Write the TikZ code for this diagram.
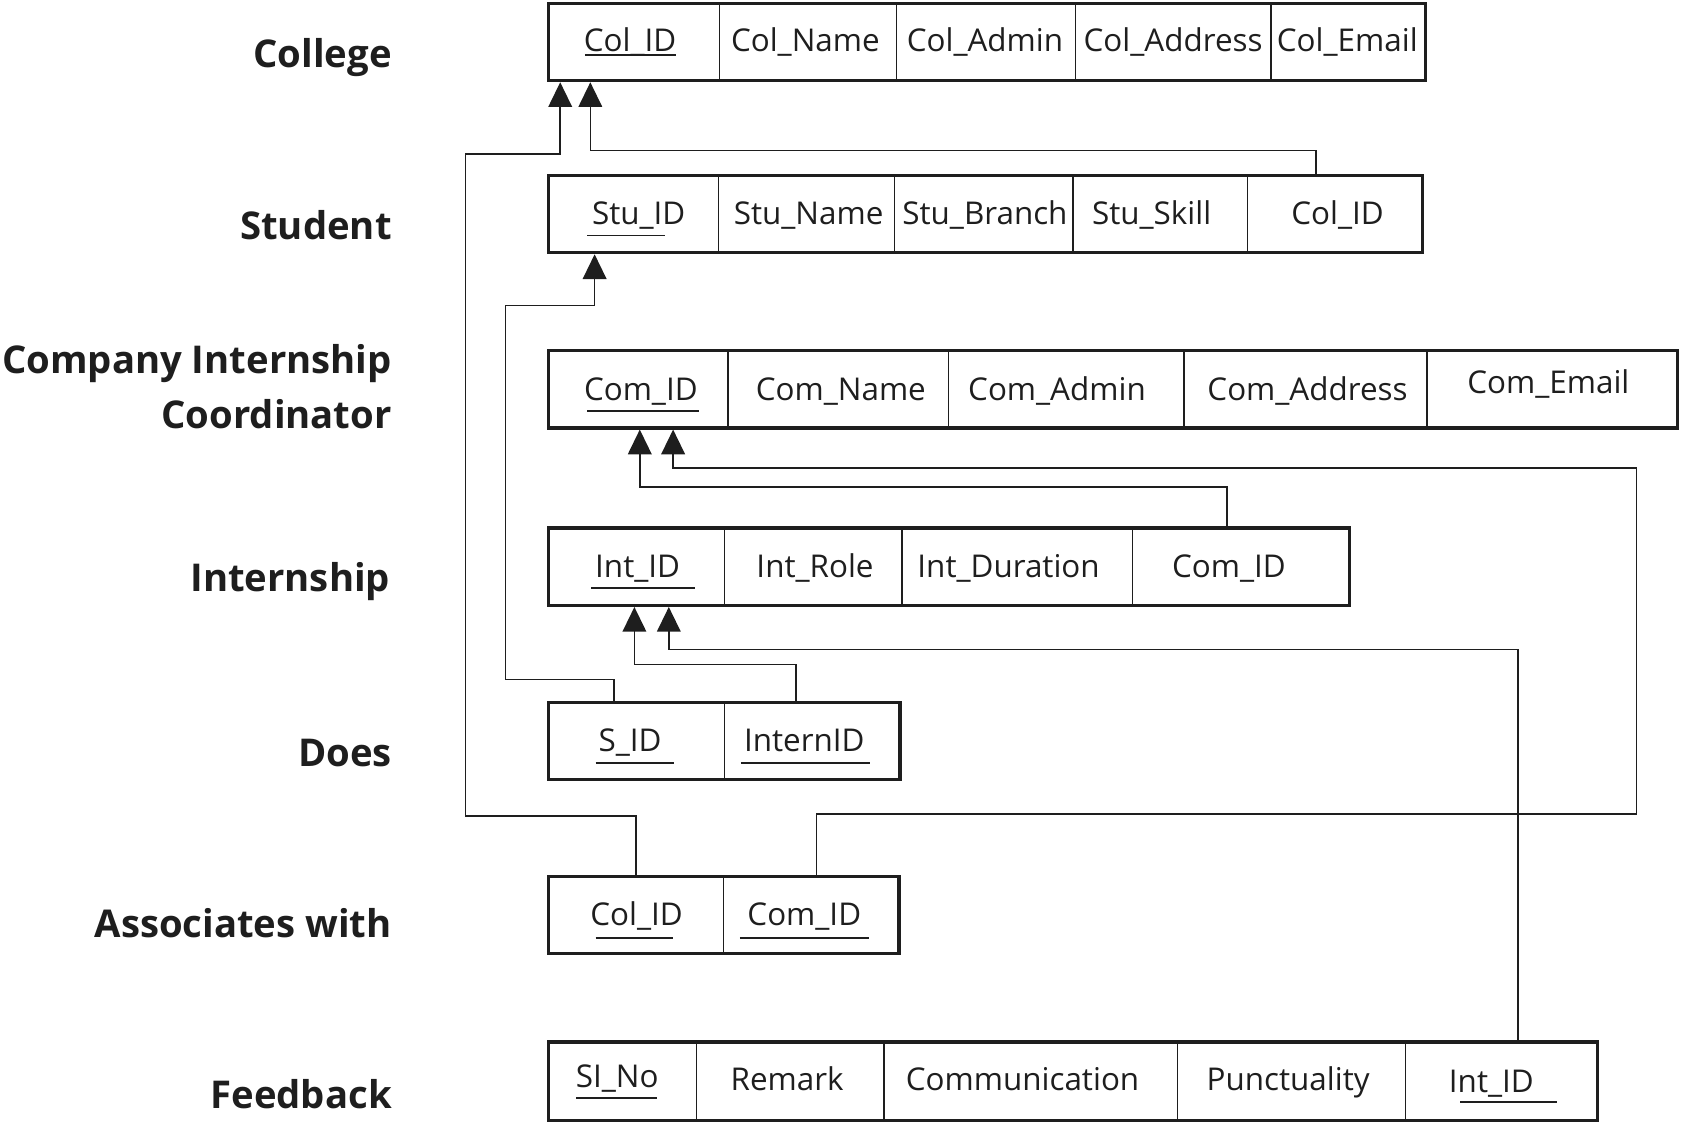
\documentclass[tikz,border=0pt]{standalone}
\usepackage{fontspec}
\setmainfont{Open Sans}
\usetikzlibrary{arrows.meta,fit}
\definecolor{ink}{HTML}{1E1E1E}
\begin{document}
\begin{tikzpicture}[x=1pt,y=-1pt,
  cell/.style={draw=ink, line width=1.3pt, minimum height=72pt, inner sep=0pt, outer sep=0pt, anchor=north west},
  tbl/.style={draw=ink, line width=3pt, inner sep=0pt},
  attr/.style={anchor=base, inner sep=0pt, font=\fontsize{29.2}{34}\selectfont, text=ink},
  lab/.style={anchor=base east, inner sep=0pt, font=\bfseries\fontsize{35.6}{46}\selectfont, text=ink},
  fk/.style={draw=ink, line width=1.5pt, -{Triangle[length=23pt,width=22pt]}},
  ul/.style={draw=ink, line width=1.8pt}]
\useasboundingbox (0,0) rectangle (1568,1044);

% ---------- labels ----------
\node[lab] (lcollege) at (364.5,62.5) {College};
\node[lab] (lstudent) at (364.5,222.5) {Student};
\node[lab] (lcomp1) at (364.5,347.5) {Company Internship};
\node[lab] (lcomp2) at (364.5,398.5) {Coordinator};
\node[lab] (linternship) at (363,550.5) {Internship};
\node[lab] (ldoes) at (364.5,712.5) {Does};
\node[lab] (lassoc) at (364.5,871.5) {Associates with};
\node[lab] (lfeedback) at (364.5,1030.5) {Feedback};

% ---------- College ----------
\node[cell, minimum width=159pt] (co1) at (510,3) {};
\node[cell, minimum width=165pt] (co2) at (669,3) {};
\node[cell, minimum width=166pt] (co3) at (834,3) {};
\node[cell, minimum width=182pt] (co4) at (1000,3) {};
\node[cell, minimum width=144pt] (co5) at (1182,3) {};
\node[tbl, fit=(co1)(co5)] (college) {};
\node[attr] (tco1) at (586,48) {Col\_ID};
\node[attr] (tco2) at (749,48) {Col\_Name};
\node[attr] (tco3) at (916,48) {Col\_Admin};
\node[attr] (tco4) at (1091,48) {Col\_Address};
\node[attr] (tco5) at (1253,48) {Col\_Email};
\draw[ul] (544,51) -- (629,51);

% ---------- Student ----------
\node[cell, minimum width=158pt] (st1) at (510,163) {};
\node[cell, minimum width=164pt] (st2) at (668,163) {};
\node[cell, minimum width=166pt] (st3) at (832,163) {};
\node[cell, minimum width=162pt] (st4) at (998,163) {};
\node[cell, minimum width=163pt] (st5) at (1160,163) {};
\node[tbl, fit=(st1)(st5)] (student) {};
\node[attr] (tst1) at (594,209) {Stu\_ID};
\node[attr] (tst2) at (752,209) {Stu\_Name};
\node[attr] (tst3) at (916,209) {Stu\_Branch};
\node[attr] (tst4) at (1071,209) {Stu\_Skill};
\node[attr] (tst5) at (1244,209) {Col\_ID};
\draw[ul] (546,219) -- (618,219);

% ---------- Company Internship Coordinator ----------
\node[cell, minimum width=167pt] (cm1) at (510,326) {};
\node[cell, minimum width=205pt] (cm2) at (677,326) {};
\node[cell, minimum width=219pt] (cm3) at (882,326) {};
\node[cell, minimum width=226pt] (cm4) at (1101,326) {};
\node[cell, minimum width=233pt] (cm5) at (1327,326) {};
\node[tbl, fit=(cm1)(cm5)] (company) {};
\node[attr] (tcm1) at (596,372) {Com\_ID};
\node[attr] (tcm2) at (782,372) {Com\_Name};
\node[attr] (tcm3) at (983,372) {Com\_Admin};
\node[attr] (tcm4) at (1216,372) {Com\_Address};
\node[attr] (tcm5) at (1440,366) {Com\_Email};
\draw[ul] (546,382) -- (650,382);

% ---------- Internship ----------
\node[cell, minimum width=164pt] (in1) at (510,491) {};
\node[cell, minimum width=165pt] (in2) at (674,491) {};
\node[cell, minimum width=214pt] (in3) at (839,491) {};
\node[cell, minimum width=202pt] (in4) at (1053,491) {};
\node[tbl, fit=(in1)(in4)] (internship) {};
\node[attr] (tin1) at (593,537) {Int\_ID};
\node[attr] (tin2) at (758,537) {Int\_Role};
\node[attr] (tin3) at (938,537) {Int\_Duration};
\node[attr] (tin4) at (1143,537) {Com\_ID};
\draw[ul] (550,547) -- (646,547);

% ---------- Does ----------
\node[cell, minimum width=164pt] (do1) at (510,653) {};
\node[cell, minimum width=163pt] (do2) at (674,653) {};
\node[tbl, fit=(do1)(do2)] (does) {};
\node[attr] (tdo1) at (586,699) {S\_ID};
\node[attr] (tdo2) at (748,699) {InternID};
\draw[ul] (554,710) -- (627,710);
\draw[ul] (689,710) -- (809,710);

% ---------- Associates with ----------
\node[cell, minimum width=163pt] (as1) at (510,815) {};
\node[cell, minimum width=163pt] (as2) at (673,815) {};
\node[tbl, fit=(as1)(as2)] (assoc) {};
\node[attr] (tas1) at (592,861) {Col\_ID};
\node[attr] (tas2) at (748,861) {Com\_ID};
\draw[ul] (554,872) -- (626,872);
\draw[ul] (688,872) -- (808,872);

% ---------- Feedback ----------
\node[cell, minimum width=138pt, minimum height=73pt] (fb1) at (510,969) {};
\node[cell, minimum width=174pt, minimum height=73pt] (fb2) at (648,969) {};
\node[cell, minimum width=273pt, minimum height=73pt] (fb3) at (822,969) {};
\node[cell, minimum width=212pt, minimum height=73pt] (fb4) at (1095,969) {};
\node[cell, minimum width=179pt, minimum height=73pt] (fb5) at (1307,969) {};
\node[tbl, fit=(fb1)(fb5)] (feedback) {};
\node[attr] (tfb1) at (574,1011) {SI\_No};
\node[attr] (tfb2) at (732,1014) {Remark};
\node[attr] (tfb3) at (951,1014) {Communication};
\node[attr] (tfb4) at (1198,1014) {Punctuality};
\node[attr] (tfb5) at (1387,1016) {Int\_ID};
\draw[ul] (536,1021) -- (611,1021);
\draw[ul] (1358,1025) -- (1448,1025);

% ---------- foreign keys ----------
\coordinate (k1a) at (433,759);
\coordinate (k1b) at (521,143);
\draw[fk] (as1.north) |- (k1a) |- (k1b) -- (k1b |- college.south);

\coordinate (k2) at (549,140);
\draw[fk] ([xshift=-17.5pt]st5.north) |- (k2) -- (k2 |- college.south);

\coordinate (k3a) at (470,632);
\coordinate (k3b) at (553,284);
\draw[fk] ([xshift=-21pt]do1.north) |- (k3a) |- (k3b) -- (k3b |- student.south);

\coordinate (k4) at (595,453);
\draw[fk] ([xshift=-13pt]in4.north) |- (k4) -- (k4 |- company.south);

\coordinate (k5a) at (1522,757);
\coordinate (k5b) at (626,435);
\draw[fk] ([xshift=5pt]as2.north) |- (k5a) |- (k5b) -- (k5b |- company.south);

\coordinate (k6) at (590,618);
\draw[fk] ([xshift=-15.5pt]do2.north) |- (k6) -- (k6 |- internship.south);

\coordinate (k7) at (622,604);
\draw[fk] ([xshift=15pt]fb5.north) |- (k7) -- (k7 |- internship.south);
\end{tikzpicture}
\end{document}
